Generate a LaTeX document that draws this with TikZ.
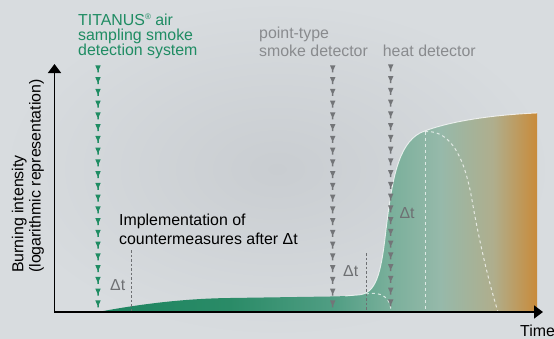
\documentclass[tikz,border=0pt]{standalone}
\usepackage{fontspec}
\setmainfont{Liberation Sans}
\usetikzlibrary{arrows.meta,decorations.markings}
\definecolor{titgreen}{HTML}{1F8C63}
\definecolor{detgray}{HTML}{737578}
\definecolor{labgray}{HTML}{898B8E}
\definecolor{dtgray}{HTML}{6E7073}
\definecolor{bgin}{HTML}{C9CDD1}
\definecolor{bgout}{HTML}{D8DCDF}
\definecolor{fsA}{HTML}{1D8560}
\definecolor{fsB}{HTML}{2A8B67}
\definecolor{fsC}{HTML}{519E84}
\definecolor{fsD}{HTML}{78AF9A}
\definecolor{fsE}{HTML}{96B9AA}
\definecolor{fsF}{HTML}{AFAE8D}
\definecolor{fsG}{HTML}{C98B3A}
\pgfdeclarehorizontalshading{fireshade}{100bp}{color(0bp)=(fsA); color(25bp)=(fsA);
  color(40bp)=(fsB); color(52bp)=(fsC); color(58bp)=(fsD); color(64bp)=(fsE);
  color(70bp)=(fsF); color(75bp)=(fsG); color(100bp)=(fsG)}

\begin{document}
\begin{tikzpicture}[x=1pt,y=-1pt]
\tikzstyle{txt}=[inner sep=0pt, anchor=base west, font=\fontsize{15.9}{17.7}\selectfont]
\tikzstyle{axis}=[line width=1.8pt, {Triangle[width=13pt,length=9pt]}-{Triangle[width=13pt,length=9pt]}]
\tikzstyle{whitedash}=[white, opacity=0.7, line width=1pt, dash pattern=on 3pt off 3pt]
\tikzstyle{delay}=[dtgray, line width=0.9pt, dash pattern=on 2.5pt off 2pt]
\tikzset{detector/.style={postaction={decorate}, decoration={markings,
  mark=between positions 0 and 1 step 11.75pt with {\fill[#1] (-3.6pt,-2.7pt) -- (-3.6pt,2.7pt)
  -- (0.8pt,0.75pt) -- (3.4pt,0.75pt) -- (3.4pt,-0.75pt) -- (0.8pt,-0.75pt) -- cycle;}}}}

\shade[inner color=bgin, outer color=bgout] (0,0) rectangle (554,338);
\useasboundingbox (0,0) rectangle (554,338);

\shade[shading=fireshade] (98,312) .. controls (140,304) and (185,298.5) .. (230,298)
  -- (330,296.5) .. controls (345,296.3) and (352,295.5) .. (358,295)
  .. controls (376,294) and (381,275) .. (386,230)
  .. controls (392,180) and (398,145) .. (420,133)
  .. controls (445,122) and (490,115) .. (537,113) -- (537,312) -- cycle;
\draw[white, opacity=0.75, line width=0.9pt] (345,296) .. controls (350,295.6) and (354,295.2) .. (358,295)
  .. controls (376,294) and (381,275) .. (386,230)
  .. controls (392,180) and (398,145) .. (420,133)
  .. controls (445,122) and (490,115) .. (537,113);

\coordinate (peaktop) at (425,131.5);
\coordinate (peakbot) at (425,312);
\coordinate (peakmid) at (472,200);
\coordinate (peakend) at (498,312);
\draw[whitedash] (peaktop) -- (peakbot);
\draw[whitedash] (peaktop) .. controls (452,130) and (465,160) .. (peakmid)
  .. controls (478,235) and (488,280) .. (peakend);
\coordinate (smallstart) at (366,294);
\coordinate (smallend) at (391,312);
\draw[whitedash] (smallstart) .. controls (382,291) and (391,298) .. (smallend);

\coordinate (dtonetop) at (131,250);
\coordinate (dtonebot) at (131,312);
\coordinate (dttwotop) at (366.5,253);
\coordinate (dttwobot) at (366.5,312);
\draw[delay] (dtonetop) -- (dtonebot);
\draw[delay] (dttwotop) -- (dttwobot);

\coordinate (titanustop) at (98,69);
\coordinate (titanusbot) at (98,310);
\coordinate (pointtop) at (332.7,69);
\coordinate (pointbot) at (332.7,310);
\coordinate (heattop) at (390.7,68);
\coordinate (heatbot) at (390.7,311);
\path[detector=titgreen] (titanustop) -- (titanusbot);
\path[detector=detgray] (pointtop) -- (pointbot);
\path[detector=detgray] (heattop) -- (heatbot);

\coordinate (ytop) at (54.5,64);
\coordinate (origin) at (54.5,312);
\coordinate (xend) at (543,312);
\draw[axis] (ytop) -- (origin) -- (xend);

\node[txt, titgreen, align=left, font=\fontsize{15.9}{15}\selectfont] (titanus) at (78,55.7)
  {TITANUS\raisebox{0.42em}{\fontsize{8}{8}\selectfont ®} air\\sampling smoke\\detection system};
\node[txt, labgray, align=left] (pointtype) at (259,56) {point-type\\smoke detector};
\node[txt, labgray] (heat) at (382.7,56) {heat detector};
\node[txt, align=left, font=\fontsize{15.9}{18.3}\selectfont] (impl) at (119,244)
  {Implementation of\\countermeasures after Δt};
\node[txt, dtgray] (dtone) at (110,290.7) {Δt};
\node[txt, dtgray] (dttwo) at (343,276) {Δt};
\node[txt, dtgray] (dtthree) at (399.3,218.7) {Δt};
\node[txt, rotate=90, align=left, font=\fontsize{15.9}{17.2}\selectfont] (ylabel) at (40.5,273)
  {Burning intensity\\(logarithmic representation)};
\node[txt] (time) at (520,336) {Time};
\end{tikzpicture}
\end{document}
